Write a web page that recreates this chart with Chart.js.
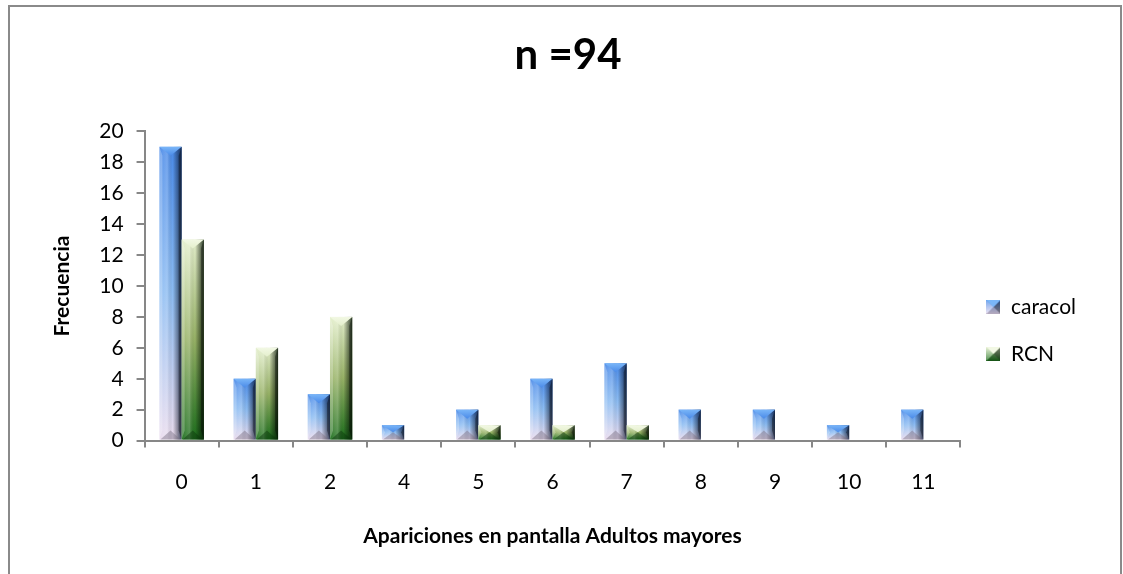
<!DOCTYPE html>
<html>
<head>
<meta charset="utf-8">
<script src="https://cdn.jsdelivr.net/npm/chart.js@4.4.1/dist/chart.umd.min.js"></script>
<style>
  html, body { margin: 0; padding: 0; background: #fff; overflow: hidden; }
  #frame { position: absolute; left: 8px; top: 5px; width: 1114px; height: 600px; border: 2px solid #8a8a8a; box-sizing: border-box; }
  #wrap { position: absolute; left: 0; top: 0; width: 1123px; height: 574px; }
</style>
</head>
<body>
<div id="frame"></div>
<div id="wrap"><canvas id="c" width="1123" height="574"></canvas></div>
<script>
const categories = ['0', '1', '2', '4', '5', '6', '7', '8', '9', '10', '11'];
const caracol = [19, 4, 3, 1, 2, 4, 5, 2, 2, 1, 2];
const rcn = [13, 6, 8, 0, 1, 1, 1, 0, 0, 0, 0];
const seriesNames = ['caracol', 'RCN'];

const FONT = 'Lato, "Open Sans", sans-serif';

const palettes = [
  { top: '#4a8ae8', mid: '#8cbcf2', bottom: '#eadcee', cap: '#7ab6f8', edgeDark: 'rgba(10,25,60,0.75)', base: 'rgba(120,110,130,0.45)' },
  { top: '#e4efcc', mid: '#97b266', bottom: '#1c6e1c', cap: '#f2f8e4', edgeDark: 'rgba(5,25,5,0.8)', base: 'rgba(10,50,10,0.45)' }
];

function drawBevelBar(ctx, x0, x1, top, bot, p) {
  const w = x1 - x0, h = bot - top;
  if (h < 0.5 || w <= 0) return;
  const xc = (x0 + x1) / 2;
  const d = Math.min(9, h / 2);
  const s = Math.min(3, w / 6);
  ctx.save();
  let g = ctx.createLinearGradient(0, top, 0, bot);
  g.addColorStop(0, p.top);
  g.addColorStop(0.5, p.mid);
  g.addColorStop(1, p.bottom);
  ctx.fillStyle = g;
  ctx.fillRect(x0, top, w, h);
  let hg = ctx.createLinearGradient(x0, 0, x1, 0);
  hg.addColorStop(0, 'rgba(255,255,255,0.05)');
  hg.addColorStop(0.35, 'rgba(255,255,255,0.22)');
  hg.addColorStop(0.6, 'rgba(0,0,0,0.0)');
  hg.addColorStop(1, p.edgeDark);
  ctx.fillStyle = hg;
  ctx.fillRect(x0, top, w, h);
  ctx.fillStyle = 'rgba(255,255,255,0.25)';
  ctx.beginPath();
  ctx.moveTo(x0, top); ctx.lineTo(x0 + s, top + d); ctx.lineTo(x0 + s, bot - d); ctx.lineTo(x0, bot); ctx.closePath(); ctx.fill();
  ctx.fillStyle = 'rgba(0,0,0,0.35)';
  ctx.beginPath();
  ctx.moveTo(x1, top); ctx.lineTo(x1 - s, top + d); ctx.lineTo(x1 - s, bot - d); ctx.lineTo(x1, bot); ctx.closePath(); ctx.fill();
  let cg = ctx.createLinearGradient(0, top, 0, top + d);
  cg.addColorStop(0, p.cap);
  cg.addColorStop(1, p.top);
  ctx.fillStyle = cg;
  ctx.beginPath();
  ctx.moveTo(x0, top); ctx.lineTo(x1, top); ctx.lineTo(xc, top + d); ctx.closePath(); ctx.fill();
  ctx.fillStyle = p.base;
  ctx.beginPath();
  ctx.moveTo(x0 + 1, bot); ctx.lineTo(x1 - 1, bot); ctx.lineTo(xc, bot - d); ctx.closePath(); ctx.fill();
  ctx.restore();
}

function legendIcon(p) {
  const cv = document.createElement('canvas');
  cv.width = 14; cv.height = 14;
  const c = cv.getContext('2d');
  let g = c.createLinearGradient(0, 0, 0, 14);
  g.addColorStop(0, p.top); g.addColorStop(1, p.bottom);
  c.fillStyle = g; c.fillRect(0, 0, 14, 14);
  c.fillStyle = 'rgba(0,0,0,0.45)';
  c.beginPath(); c.moveTo(14, 0); c.lineTo(7, 7); c.lineTo(14, 14); c.closePath(); c.fill();
  c.fillStyle = 'rgba(255,255,255,0.25)';
  c.beginPath(); c.moveTo(0, 0); c.lineTo(7, 7); c.lineTo(0, 14); c.closePath(); c.fill();
  c.fillStyle = p.cap;
  c.beginPath(); c.moveTo(0, 0); c.lineTo(14, 0); c.lineTo(7, 7); c.closePath(); c.fill();
  c.fillStyle = p.base;
  c.beginPath(); c.moveTo(0, 14); c.lineTo(14, 14); c.lineTo(7, 7); c.closePath(); c.fill();
  return cv;
}

const bevelPlugin = {
  id: 'bevel',
  afterDatasetsDraw(chart) {
    const ctx = chart.ctx;
    ctx.save();
    const ca = chart.chartArea;
    ctx.beginPath(); ctx.rect(ca.left, ca.top - 2, ca.right - ca.left, ca.bottom - ca.top + 2); ctx.clip();
    chart.data.datasets.forEach((ds, i) => {
      const meta = chart.getDatasetMeta(i);
      if (meta.hidden) return;
      meta.data.forEach(bar => {
        const { x, y, base, width } = bar.getProps(['x', 'y', 'base', 'width'], true);
        drawBevelBar(ctx, x - width / 2, x + width / 2, Math.min(y, base), Math.max(y, base), palettes[i]);
      });
    });
    ctx.restore();
  }
};

const icons = palettes.map(legendIcon);

new Chart(document.getElementById('c'), {
  type: 'bar',
  data: {
    labels: categories,
    datasets: [
      { label: seriesNames[0], data: caracol, backgroundColor: 'rgba(0,0,0,0)', pointStyle: icons[0] },
      { label: seriesNames[1], data: rcn, backgroundColor: 'rgba(0,0,0,0)', pointStyle: icons[1] }
    ]
  },
  options: {
    responsive: false,
    animation: false,
    devicePixelRatio: 1,
    layout: { padding: { left: 50, right: 37, top: 0, bottom: 25 } },
    datasets: { bar: { categoryPercentage: 0.6, barPercentage: 1.0 } },
    plugins: {
      title: {
        display: true,
        text: 'n =94',
        color: '#000',
        font: { family: FONT, size: 42, weight: 'bold' },
        padding: { top: 30, bottom: 51 }
      },
      legend: {
        position: 'right',
        title: { display: true, text: ' ', font: { size: 10 }, padding: { top: 100, bottom: 0 } },
        labels: {
          usePointStyle: true,
          color: '#000',
          font: { family: FONT, size: 21 },
          padding: 26,
          boxWidth: 14,
          boxHeight: 14
        }
      },
      tooltip: { enabled: false }
    },
    scales: {
      x: {
        grid: { display: true, drawOnChartArea: false, drawTicks: true, tickLength: 7, color: '#878787', lineWidth: 2 },
        border: { display: true, color: '#878787', width: 2 },
        ticks: { color: '#000', font: { family: FONT, size: 21 }, padding: 22 },
        title: { display: true, text: 'Apariciones en pantalla Adultos mayores', color: '#000', font: { family: FONT, size: 21, weight: 'bold' }, padding: { top: 7, bottom: 0 } }
      },
      y: {
        min: 0, max: 20,
        ticks: { stepSize: 2, color: '#000', font: { family: FONT, size: 21 }, padding: 13 },
        grid: { display: true, drawOnChartArea: false, drawTicks: true, tickLength: 8, color: '#878787', lineWidth: 2 },
        border: { display: true, color: '#878787', width: 2 },
        title: { display: true, text: 'Frecuencia', color: '#000', font: { family: FONT, size: 21, weight: 'bold' }, padding: { top: 0, bottom: 11 } }
      }
    }
  },
  plugins: [bevelPlugin]
});
</script>
</body>
</html>
